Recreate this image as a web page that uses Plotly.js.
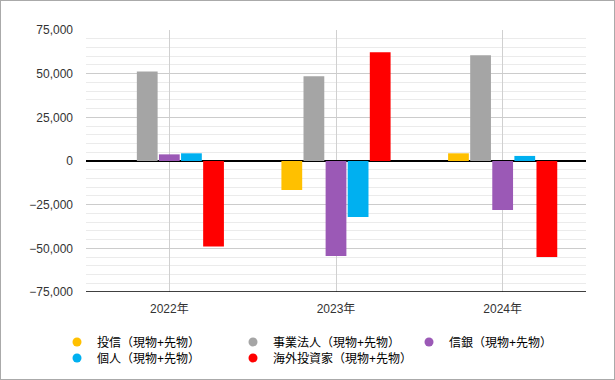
<!DOCTYPE html>
<html><head><meta charset="utf-8">
<script src="https://cdn.plot.ly/plotly-3.0.1.min.js"></script>
<style>body{margin:0;}#wrap{position:relative;width:615px;height:380px;}#frame{position:absolute;left:0;top:0;width:613px;height:378px;border:1px solid #aaaaaa;pointer-events:none;}</style>
</head><body><div id="wrap"><div id="chart" style="width:615px;height:380px;"></div><div id="frame"></div></div>
<script>
const years = ["2022年", "2023年", "2024年"];
const seriesNames = ["投信（現物+先物）", "事業法人（現物+先物）", "信銀（現物+先物）", "個人（現物+先物）", "海外投資家（現物+先物）"];
const toushin = [0, -16600, 4400];
const jigyou = [51300, 48500, 60500];
const shingin = [3800, -54400, -28000];
const kojin = [4400, -32100, 2900];
const kaigai = [-48900, 62200, -55000];
const colors = ["#FFC000", "#A5A5A5", "#9B59B6", "#00B0F0", "#FF0000"];
const yTicks = [-75000, -50000, -25000, 0, 25000, 50000, 75000];

const values = [toushin, jigyou, shingin, kojin, kaigai];
const legendOf = ['legend', 'legend', 'legend', 'legend2', 'legend2'];
const FONT = '"Liberation Sans", Arial, "Noto Sans CJK JP", sans-serif';
const traces = [];
values.forEach((v, i) => {
  traces.push({type: 'bar', x: years, y: v, name: seriesNames[i], showlegend: false,
    marker: {color: colors[i], line: {width: 0}}, hoverinfo: 'y'});
});
values.forEach((v, i) => {
  traces.push({type: 'scatter', mode: 'markers', x: [null], y: [null], name: seriesNames[i],
    legend: legendOf[i],
    marker: {color: colors[i], size: 9, symbol: 'circle'}, showlegend: true});
});

const legendBase = {orientation: 'h', xanchor: 'left', yanchor: 'top',
    entrywidth: 131, entrywidthmode: 'pixels', itemwidth: 30,
    font: {size: 12, color: '#000'}, tracegroupgap: 0, traceorder: 'normal',
    bgcolor: 'rgba(0,0,0,0)'};

const layout = {
  width: 615, height: 380,
  margin: {l: 86, r: 29, t: 30, b: 88, autoexpand: false},
  paper_bgcolor: '#ffffff', plot_bgcolor: '#ffffff',
  font: {family: FONT, size: 12, color: '#333333'},
  barmode: 'group', bargap: 0.337, bargroupgap: 0.06,
  xaxis: {type: 'category', showgrid: true, gridcolor: '#d0d0d0', gridwidth: 1,
    showline: false, ticks: '', ticklabelstandoff: 8, tickfont: {size: 12, color: '#333'}, zeroline: false},
  yaxis: {range: [-75000, 75000], tickvals: yTicks, tickformat: ',d',
    showgrid: true, gridcolor: '#cccccc', gridwidth: 1,
    minor: {dtick: 5000, showgrid: true, gridcolor: '#ebebeb', gridwidth: 1},
    zeroline: true, zerolinecolor: '#000000', zerolinewidth: 2,
    showline: false, ticks: '', ticklabelstandoff: 12, tickfont: {size: 12, color: '#333'}},
  shapes: [{type: 'line', xref: 'paper', yref: 'y', x0: 0, x1: 1, y0: -75000, y1: -75000,
    line: {color: '#000', width: 1.5}}],
  showlegend: true,
  legend: Object.assign({}, legendBase, {x: -0.058, y: (292 - 327.5) / 262}),
  legend2: Object.assign({}, legendBase, {x: -0.058, y: (292 - 343.5) / 262})
};
Plotly.newPlot('chart', traces, layout, {staticPlot: true, displayModeBar: false});
</script></body></html>
